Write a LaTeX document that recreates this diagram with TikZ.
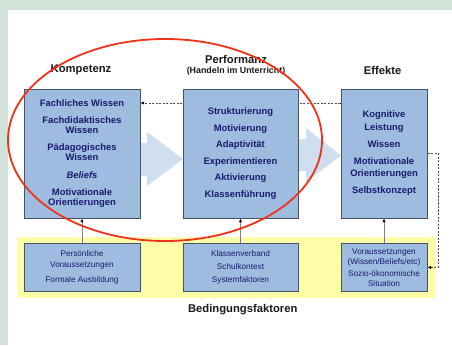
\documentclass[tikz,border=0pt]{standalone}
\usepackage{fontspec}
\setmainfont{Liberation Sans}
\usetikzlibrary{arrows.meta}
\definecolor{framegrey}{RGB}{211,226,217}
\definecolor{boxfill}{RGB}{158,188,224}
\definecolor{boxline}{RGB}{72,82,98}
\definecolor{boxtext}{RGB}{26,26,110}
\definecolor{bandyellow}{RGB}{253,253,168}
\definecolor{flowblue}{RGB}{208,223,240}
\definecolor{ringred}{RGB}{240,52,28}
\pgfdeclarelayer{bglayer}
\pgfdeclarelayer{edgelayer}
\pgfdeclarelayer{nodelayer}
\pgfsetlayers{bglayer,edgelayer,nodelayer,main}
\tikzstyle{box}=[rectangle, draw=boxline, fill=boxfill, text=boxtext, align=center, inner sep=0pt, line width=0.7pt]
\tikzstyle{topbox}=[box, minimum height=3.225cm, font=\fontsize{6.7}{7.1}\selectfont\bfseries]
\tikzstyle{basebox}=[box, minimum height=1.18cm, font=\fontsize{5.85}{7.5}\selectfont]
\tikzstyle{title}=[text=black!90, font=\fontsize{8}{9}\selectfont\bfseries]
\tikzstyle{upedge}=[draw=black!50, line width=0.7pt, -{Latex[length=2.6pt,width=2.4pt,black]}]
\tikzstyle{backedge}=[draw=black!70, line width=0.5pt, dash pattern=on 1.5pt off 1pt, -{Latex[length=2.6pt,width=2.4pt,black]}]

\begin{document}
\begin{tikzpicture}
			\useasboundingbox (0, 0) rectangle (11.3, 8.625);
			\begin{pgfonlayer}{bglayer}
			\fill [framegrey] (0, 0) rectangle (11.3, 8.625);
			\fill [white] (0.2, 0) rectangle (11.3, 8.375);
			\fill [bandyellow] (0.425, 1.175) rectangle (10.875, 2.7);
			\fill [flowblue] (3.0, 5.05) -- (3.675, 5.05) -- (3.675, 5.325) -- (4.575, 4.65) -- (3.675, 3.975) -- (3.675, 4.225) -- (3.0, 4.225) -- cycle;
			\fill [flowblue] (7.0, 5.15) -- (7.65, 5.15) -- (7.65, 5.425) -- (8.525, 4.7375) -- (7.65, 4.075) -- (7.65, 4.35) -- (7.0, 4.35) -- cycle;
			\end{pgfonlayer}
			\begin{pgfonlayer}{nodelayer}
			\node [style=topbox, minimum width=2.9cm] (0) at (2.05, 4.7875) {Fachliches Wissen\\[5.3pt]Fachdidaktisches\\Wissen\\[5.3pt]Pädagogisches\\Wissen\\[5.3pt]\textit{Beliefs}\\[5.3pt]Motivationale\\Orientierungen};
			\node [style=topbox, minimum width=2.875cm] (1) at (6.0125, 4.7875) {Strukturierung\\[4.6pt]Motivierung\\[4.6pt]Adaptivität\\[4.6pt]Experimentieren\\[4.6pt]Aktivierung\\[4.6pt]Klassenführung};
			\node [style=topbox, minimum width=2.15cm, font=\fontsize{6.7}{8.7}\selectfont\bfseries] (2) at (9.6, 4.7875) {Kognitive\\Leistung\\[3.5pt]Wissen\\[3.5pt]Motivationale\\Orientierungen\\[3.5pt]Selbstkonzept};
			\node [style=basebox, minimum width=2.9cm] (3) at (2.05, 1.94) {Persönliche\\Voraussetzungen\\[3.1pt]Formale Ausbildung};
			\node [style=basebox, minimum width=2.875cm] (4) at (6.0125, 1.94) {Klassenverband\\[1.9pt]Schulkontext\\[1.9pt]Systemfaktoren};
			\node [style=basebox, minimum width=2.15cm, font=\fontsize{5.85}{7.1}\selectfont] (5) at (9.6, 1.94) {Voraussetzungen\\(Wissen/Beliefs/etc)\\[1.2pt]Sozio-ökonomische\\Situation};
			\node [style=title] (6) at (2.025, 6.875) {Kompetenz};
			\node [style=title] (7) at (5.9, 7.1425) {Performanz};
			\node [style=title, font=\fontsize{6.3}{7}\selectfont\bfseries] (8) at (5.9, 6.8325) {(Handeln im Unterricht)};
			\node [style=title] (9) at (9.5675, 6.875) {Effekte};
			\node [style=title] (10) at (6.0675, 0.875) {Bedingungsfaktoren};
			\end{pgfonlayer}
			\begin{pgfonlayer}{edgelayer}
			\draw [style=upedge] (3) to (0);
			\draw [style=upedge] (4) to (1);
			\draw [style=upedge] (5) to (2);
			\draw [style=backedge] (2.west |- 0,6.05) to (0.east |- 0,6.05);
			\draw [style=backedge] (2.east) -- ++(0.27, 0) |- (5.east);
			\end{pgfonlayer}
			\draw [ringred, line width=1.3pt] (4.125, 5.125) ellipse [x radius=3.925, y radius=2.525];
\end{tikzpicture}
\end{document}
